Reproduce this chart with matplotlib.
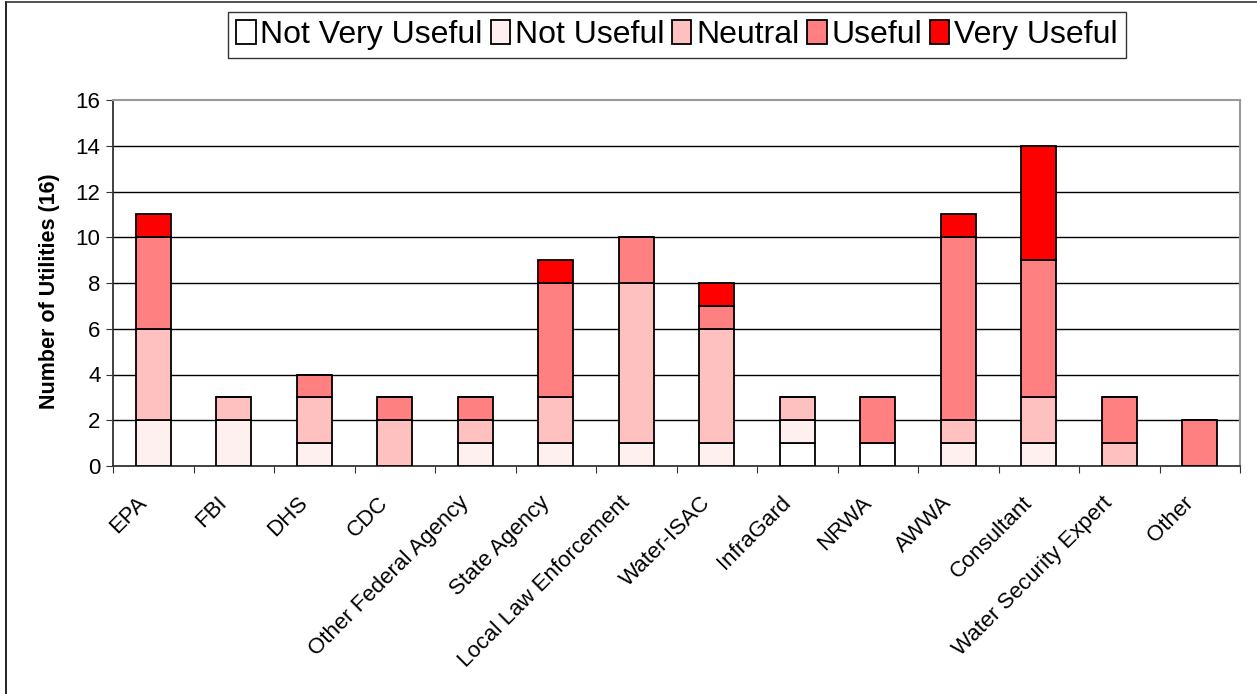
import matplotlib
matplotlib.use("Agg")
import matplotlib.pyplot as plt
import matplotlib.transforms as mtransforms
import numpy as np
from matplotlib.lines import Line2D

categories = ["EPA", "FBI", "DHS", "CDC", "Other Federal Agency", "State Agency",
              "Local Law Enforcement", "Water-ISAC", "InfraGard", "NRWA", "AWWA",
              "Consultant", "Water Security Expert", "Other"]
not_very_useful = [0, 0, 0, 0, 0, 0, 0, 0, 1, 1, 0, 0, 0, 0]
not_useful      = [2, 2, 1, 0, 1, 1, 1, 1, 1, 0, 1, 1, 0, 0]
neutral         = [4, 1, 2, 2, 1, 2, 7, 5, 1, 0, 1, 2, 1, 0]
useful          = [4, 0, 1, 1, 1, 5, 2, 1, 0, 2, 8, 6, 2, 2]
very_useful     = [1, 0, 0, 0, 0, 1, 0, 1, 0, 0, 1, 5, 0, 0]
series_names = ["Not Very Useful", "Not Useful", "Neutral", "Useful", "Very Useful"]
series_colors = ["#FFFFFF", "#FFF0F0", "#FFC0C0", "#FF8080", "#FF0000"]
yticks = [0, 2, 4, 6, 8, 10, 12, 14, 16]

plt.rcParams['font.family'] = ['Liberation Sans', 'DejaVu Sans']

fig = plt.figure(figsize=(12.57, 6.94), dpi=100)
ax = fig.add_axes([113/1257, 1-466/694, (1240-113)/1257, (466-100)/694])

x = np.arange(len(categories))
bottom = np.zeros(len(categories))
handles = []
for name, vals, col in zip(series_names,
                           [not_very_useful, not_useful, neutral, useful, very_useful],
                           series_colors):
    v = np.array(vals, dtype=float)
    bars = ax.bar(x, v, bottom=bottom, width=0.43, color=col, edgecolor='black',
                  linewidth=1.3, label=name, zorder=3)
    handles.append(bars)
    bottom += v

ax.set_xlim(-0.5, len(categories) - 0.5)
ax.set_ylim(0, 16)
ax.set_yticks(yticks)
ax.set_yticklabels([str(t) for t in yticks], fontsize=16)
for t in yticks[1:-1]:
    ax.axhline(t, color='black', linewidth=1.0, zorder=1)

ax.set_xticks(np.arange(len(categories) + 1) - 0.5, minor=False)
ax.set_xticklabels([])
ax.set_xticks(x, minor=True)
ax.set_xticklabels(categories, minor=True, rotation=45, ha='right', va='top',
                   rotation_mode='anchor', fontsize=16)
ax.tick_params(axis='x', which='minor', length=0, pad=19)
ax.tick_params(axis='x', which='major', length=5, direction='out', color='#333333')
ax.tick_params(axis='y', length=5, direction='out', color='#333333', pad=4)

shift = mtransforms.ScaledTranslation(-17/100, 0, fig.dpi_scale_trans)
for lbl in ax.get_xticklabels(minor=True):
    lbl.set_transform(lbl.get_transform() + shift)

ax.set_ylabel("Number of Utilities (16)", fontsize=15.5, fontweight='bold')
ax.yaxis.set_label_coords(-0.047, 0.478)

for s in ['left', 'bottom']:
    ax.spines[s].set_color('#333333')
    ax.spines[s].set_linewidth(1.3)
for s in ['top', 'right']:
    ax.spines[s].set_color('#999999')
    ax.spines[s].set_linewidth(1.5)

leg = fig.legend(handles=handles, labels=series_names, loc='upper center',
                 bbox_to_anchor=(677/1257, 1-12/694), ncol=5, fontsize=23,
                 frameon=True, fancybox=False, edgecolor='black',
                 handlelength=0.6, handleheight=0.8, handletextpad=0.15,
                 columnspacing=0.25, borderpad=0.25, borderaxespad=0)
leg.get_frame().set_linewidth(1.0)

# outer border lines
fig.add_artist(Line2D([6/1257, 6/1257], [0, 1-2/694], color='black', linewidth=1.2,
                      transform=fig.transFigure))
fig.add_artist(Line2D([6/1257, 1], [1-2/694, 1-2/694], color='#333333', linewidth=1.2,
                      transform=fig.transFigure))

fig.savefig("out.png", dpi=100)
